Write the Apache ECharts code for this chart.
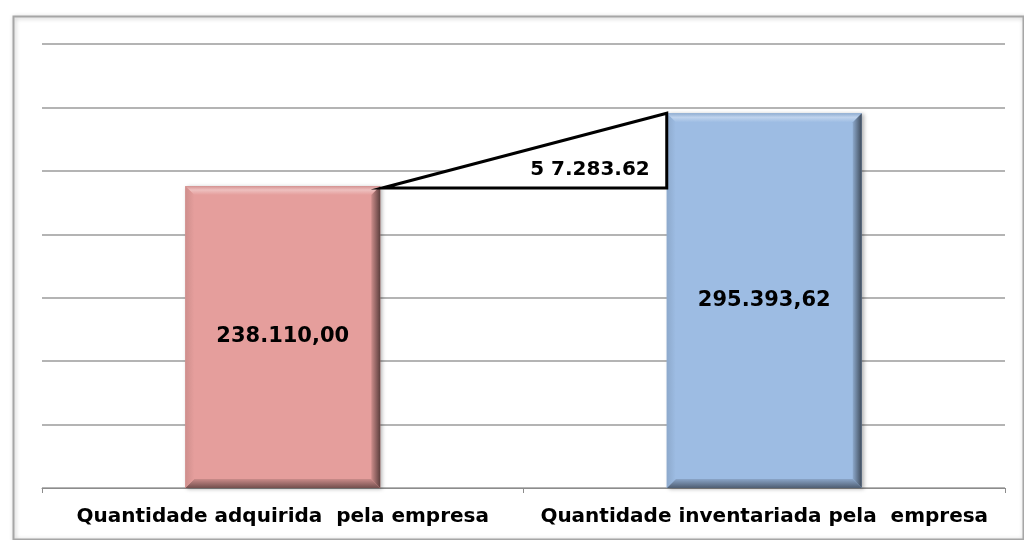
<!DOCTYPE html>
<html>
<head>
<meta charset="utf-8">
<script src="https://cdn.jsdelivr.net/npm/echarts@6/dist/echarts.min.js"></script>
<style>
  html,body{margin:0;padding:0;background:#fff;}
  #chart{width:1024px;height:540px;}
</style>
</head>
<body>
<div id="chart"></div>
<script>
const categories = ['Quantidade adquirida  pela empresa', 'Quantidade inventariada pela  empresa'];
const values = [238110.00, 295393.62];
const valueLabels = ['238.110,00', '295.393,62'];
const diffLabel = '5 7.283.62';
const barColors = ['#E59E9C', '#9DBCE3'];
const axisMax = 350000;
const axisStep = 50000;

const chart = echarts.init(document.getElementById('chart'));
const BAR_RATIO = 0.405;

// k > 0 mixes toward white, k < 0 toward black
function shade(hex, k) {
  const n = parseInt(hex.slice(1), 16);
  const rgb = [(n >> 16) & 255, (n >> 8) & 255, n & 255].map(c =>
    Math.round(k >= 0 ? c + (255 - c) * k : c * (1 + k)));
  return 'rgb(' + rgb.join(',') + ')';
}

// bevel edges drawn over each bar
function bevelItem(params, api) {
  const idx = api.value(0);
  const top = api.coord([idx, api.value(1)]);
  const base = api.coord([idx, 0]);
  const w = api.size([1, 0])[0] * BAR_RATIO;
  const x0 = top[0] - w / 2, x1 = top[0] + w / 2;
  const y0 = top[1], y1 = base[1];
  const b = 9;
  const col = barColors[idx];
  return {
    type: 'group',
    children: [
      { type: 'polygon', shape: { points: [[x0, y0], [x1, y0], [x1 - b, y0 + b], [x0 + b, y0 + b]] },
        style: { fill: new echarts.graphic.LinearGradient(0, 0, 0, 1, [
          { offset: 0, color: shade(col, -0.08) },
          { offset: 0.45, color: shade(col, 0.35) },
          { offset: 1, color: col }]) } },
      { type: 'polygon', shape: { points: [[x1, y0], [x1, y1], [x1 - b, y1 - b], [x1 - b, y0 + b]] },
        style: { fill: new echarts.graphic.LinearGradient(0, 0, 1, 0, [
          { offset: 0, color: shade(col, -0.1) },
          { offset: 1, color: shade(col, -0.6) }]) } },
      { type: 'polygon', shape: { points: [[x0, y1], [x1, y1], [x1 - b, y1 - b], [x0 + b, y1 - b]] },
        style: { fill: new echarts.graphic.LinearGradient(0, 0, 0, 1, [
          { offset: 0, color: shade(col, -0.12) },
          { offset: 1, color: shade(col, -0.5) }]) } },
      { type: 'polygon', shape: { points: [[x0, y0], [x0 + b, y0 + b], [x0 + b, y1 - b], [x0, y1]] },
        style: { fill: new echarts.graphic.LinearGradient(0, 0, 1, 0, [
          { offset: 0, color: shade(col, -0.1) },
          { offset: 1, color: col }]) } }
    ]
  };
}

// triangle linking the two bar tops
function triangleItem(params, api) {
  const w = api.size([1, 0])[0] * BAR_RATIO;
  const a = api.coord([0, values[0]]);
  const c = api.coord([1, values[1]]);
  const bx = c[0] - w / 2;
  const ax = a[0] + w / 2 + 2;
  const baseY = a[1] + 2;
  return {
    type: 'group',
    children: [
      { type: 'polygon', shape: { points: [[ax, baseY], [bx, c[1]], [bx, baseY]] },
        style: { fill: '#fff', stroke: '#000', lineWidth: 3, lineJoin: 'miter' } },
      { type: 'text', x: bx - 17, y: baseY - 18,
        style: { text: diffLabel, fill: '#000', font: 'bold 20px "DejaVu Sans"', align: 'right', verticalAlign: 'middle' } }
    ]
  };
}

const option = {
  animation: false,
  backgroundColor: '#fff',
  graphic: [{
    type: 'rect', left: 11, top: 14, shape: { width: 1010, height: 523 },
    style: { fill: 'none', stroke: '#a6a6a6', lineWidth: 2, shadowColor: 'rgba(0,0,0,0.25)', shadowBlur: 4, shadowOffsetX: 1, shadowOffsetY: 1 },
    z: -1
  }],
  grid: { left: 42, right: 19, top: 44, bottom: 52 },
  xAxis: {
    type: 'category',
    data: categories,
    axisLine: { lineStyle: { color: '#8c8c8c', width: 1 } },
    axisTick: { show: true, length: 5, lineStyle: { color: '#8c8c8c' } },
    axisLabel: { interval: 0, color: '#000', fontFamily: 'DejaVu Sans', fontWeight: 'bold', fontSize: 20, margin: 19 }
  },
  yAxis: {
    type: 'value',
    min: 0,
    max: axisMax,
    interval: axisStep,
    axisLine: { show: false },
    axisTick: { show: false },
    axisLabel: { show: false },
    splitLine: { lineStyle: { color: '#b4b4b4', width: 2 } }
  },
  series: [
    {
      type: 'bar',
      barWidth: (BAR_RATIO * 100) + '%',
      data: values.map((v, i) => ({ value: v, itemStyle: { color: barColors[i] } })),
      label: {
        show: true,
        position: 'inside',
        formatter: p => valueLabels[p.dataIndex],
        color: '#000',
        fontFamily: 'DejaVu Sans',
        fontWeight: 'bold',
        fontSize: 21
      },
      itemStyle: { shadowColor: 'rgba(0,0,0,0.3)', shadowBlur: 4, shadowOffsetX: 2, shadowOffsetY: 1 },
      z: 2
    },
    {
      type: 'custom',
      renderItem: bevelItem,
      data: values.map((v, i) => [i, v]),
      z: 3,
      silent: true
    },
    {
      type: 'custom',
      renderItem: triangleItem,
      data: [[0, values[0]]],
      z: 4,
      silent: true
    }
  ]
};
chart.setOption(option);
</script>
</body>
</html>
